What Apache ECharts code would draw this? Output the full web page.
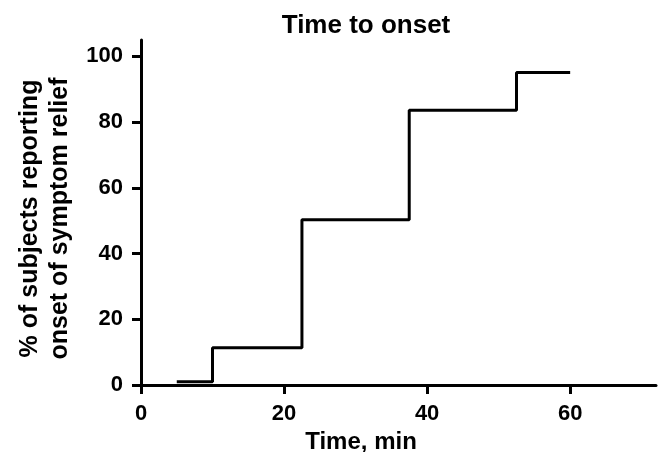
<!DOCTYPE html>
<html lang="en">
<head>
    <meta charset="UTF-8">
    <title>Time to onset</title>
    <script src="https://cdn.jsdelivr.net/npm/echarts@6/dist/echarts.min.js"></script>
    <style>
        body { margin: 0; background: #fff; }
    </style>
</head>
<body>
    <div id="main" style="width:664px;height:452px;"></div>

    <script>
        // time (min) and % of subjects, step points
        const timeMin = [5, 10, 22.5, 37.5, 52.5, 60];
        const pctSubjects = [1, 11.3, 50.3, 83.6, 95.1, 95.1];
        const xTicks = [0, 20, 40, 60];
        const yTicks = [0, 20, 40, 60, 80, 100];

        const font = '"Liberation Sans", Arial, sans-serif';
        const points = timeMin.map(function (t, i) { return [t, pctSubjects[i]]; });

        const option = {
            animation: false,
            backgroundColor: '#fff',
            title: {
                text: 'Time to onset',
                left: 361,
                textAlign: 'center',
                top: 8,
                textStyle: { fontFamily: font, fontSize: 26, fontWeight: 'bold', color: '#000' }
            },
            grid: { left: 141, top: 40, right: 8, bottom: 67, containLabel: false, outerBoundsMode: 'none' },
            xAxis: {
                type: 'value',
                min: 0,
                max: 72,
                interval: 20,
                name: 'Time, min',
                nameLocation: 'middle',
                nameGap: 44,
                nameTextStyle: {
                    fontFamily: font, fontSize: 24, fontWeight: 'bold', color: '#000',
                    padding: [0, 75, 0, 0]
                },
                splitLine: { show: false },
                axisLine: { lineStyle: { color: '#000', width: 3 } },
                axisTick: { length: 9, customValues: xTicks, lineStyle: { color: '#000', width: 3 } },
                axisLabel: {
                    margin: 18,
                    customValues: xTicks,
                    fontFamily: font, fontSize: 22, fontWeight: 'bold', color: '#000'
                }
            },
            yAxis: {
                type: 'value',
                min: 0,
                max: 105,
                interval: 20,
                name: '% of subjects reporting\nonset of symptom relief',
                nameLocation: 'middle',
                nameGap: 62,
                nameTextStyle: {
                    fontFamily: font, fontSize: 25, fontWeight: 'bold', color: '#000', lineHeight: 30,
                    padding: [0, 12, 0, 0]
                },
                splitLine: { show: false },
                axisLine: { lineStyle: { color: '#000', width: 3 } },
                axisTick: { length: 9, customValues: yTicks, lineStyle: { color: '#000', width: 3 } },
                axisLabel: {
                    margin: 18,
                    customValues: yTicks,
                    fontFamily: font, fontSize: 22, fontWeight: 'bold', color: '#000'
                }
            },
            series: [{
                type: 'line',
                step: 'end',
                symbol: 'none',
                lineStyle: { color: '#000', width: 3 },
                data: points
            }]
        };

        var myChart = echarts.init(document.getElementById('main'));
        myChart.setOption(option);
    </script>
</body>
</html>
